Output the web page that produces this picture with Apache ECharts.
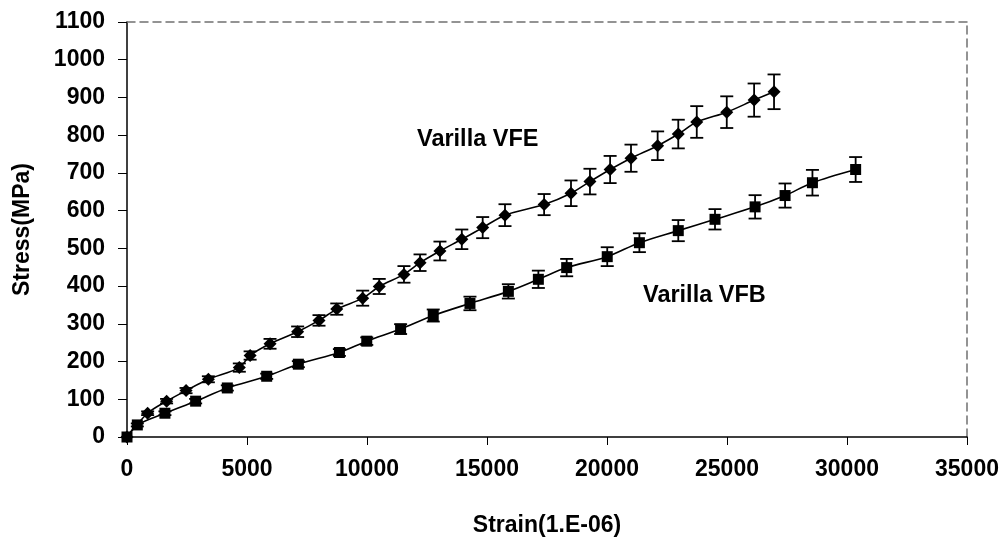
<!DOCTYPE html>
<html>
<head>
<meta charset="utf-8">
<script src="https://cdn.jsdelivr.net/npm/echarts@6/dist/echarts.min.js"></script>
<style>
  html, body { margin: 0; padding: 0; background: #fff; }
  #chart-div { width: 1005px; height: 542px; }
</style>
</head>
<body>
<div id="chart-div"></div>
<script>
// Varilla VFE (rombot)
const vfeStrain = [0, 860, 1650, 2460, 3390, 4680, 5130, 5960, 7110, 8000, 8740, 9820, 10510, 11540, 12210, 13040, 13950, 14820, 15750, 17380, 18500, 19290, 20130, 21000, 22110, 22970, 23740, 24990, 26130, 26960]
const vfeStress = [0, 63, 95, 123, 153, 184, 216, 247, 279, 309, 339, 368, 399, 431, 462, 493, 524, 555, 588, 616, 646, 677, 709, 739, 772, 803, 835, 861, 893, 915]
const vfeErr = [0, 5, 6, 7, 8, 11, 11, 13, 14, 14, 15, 20, 20, 22, 22, 25, 26, 28, 29, 28, 34, 34, 36, 36, 38, 38, 42, 42, 44, 46]

// Varilla VFB (neliöt)
const vfbStrain = [0, 430, 1580, 2860, 4180, 5820, 7140, 8850, 9990, 11400, 12760, 14290, 15890, 17140, 18320, 20010, 21350, 22970, 24500, 26170, 27420, 28560, 30360]
const vfbStress = [0, 32, 63, 95, 130, 161, 193, 224, 254, 286, 322, 354, 386, 418, 449, 478, 515, 547, 577, 610, 640, 674, 709]
const vfbErr = [0, 4, 5, 6, 7, 7, 8, 9, 10, 13, 16, 18, 19, 23, 23, 25, 25, 28, 27, 31, 32, 34, 33]

const font = "'Liberation Sans', Arial, sans-serif"

function pairs(xs, ys) { return xs.map((x, i) => [x, ys[i]]) }
function triples(xs, ys, es) { return xs.map((x, i) => [x, ys[i], es[i]]) }

// virhepalkit
function errorBars(params, api) {
    const e = api.value(2)
    if (!e) return
    const x = api.value(0), y = api.value(1)
    const top = api.coord([x, y + e])
    const bot = api.coord([x, y - e])
    const w = 6.5
    const st = { stroke: '#000', lineWidth: 1.8 }
    return {
        type: 'group',
        children: [
            { type: 'line', shape: { x1: top[0], y1: top[1], x2: bot[0], y2: bot[1] }, style: st },
            { type: 'line', shape: { x1: top[0] - w, y1: top[1], x2: top[0] + w, y2: top[1] }, style: st },
            { type: 'line', shape: { x1: bot[0] - w, y1: bot[1], x2: bot[0] + w, y2: bot[1] }, style: st }
        ]
    }
}

let myChart = echarts.init(document.getElementById('chart-div'))

const labelStyle = { color: '#000', fontWeight: 'bold', fontSize: 23, fontFamily: font }
const plain = v => String(v) // ei tuhaterottimia

const option = {
    animation: false,
    backgroundColor: '#fff',
    grid: { left: 127, top: 22, right: 38, bottom: 102 },
    xAxis: [{
        type: 'value', min: 0, max: 35000, interval: 5000,
        name: 'Strain(1.E-06)', nameLocation: 'middle', nameGap: 77,
        nameTextStyle: labelStyle,
        axisLine: { onZero: false, lineStyle: { color: '#000', width: 1.5 } },
        axisTick: { length: 8, lineStyle: { color: '#000', width: 1 } },
        axisLabel: Object.assign({ margin: 21, formatter: plain }, labelStyle),
        splitLine: { show: false }
    }, {
        type: 'value', position: 'top', min: 0, max: 35000,
        axisLine: { show: true, onZero: false, lineStyle: { color: '#707070', type: [8, 5], width: 1.5 } },
        axisTick: { show: false }, axisLabel: { show: false }, splitLine: { show: false }
    }],
    yAxis: [{
        type: 'value', min: 0, max: 1100, interval: 100,
        name: 'Stress(MPa)', nameLocation: 'middle', nameGap: 93,
        nameTextStyle: labelStyle,
        axisLine: { show: true, onZero: false, lineStyle: { color: '#000', width: 1.5 } },
        axisTick: { show: true, length: 9, lineStyle: { color: '#000', width: 1 } },
        axisLabel: Object.assign({ margin: 22, formatter: plain }, labelStyle),
        splitLine: { show: false }
    }, {
        type: 'value', position: 'right', min: 0, max: 1100,
        axisLine: { show: true, onZero: false, lineStyle: { color: '#707070', type: [8, 5], width: 1.5 } },
        axisTick: { show: false }, axisLabel: { show: false }, splitLine: { show: false }
    }],
    graphic: [
        { type: 'text', left: 417, top: 128, style: { text: 'Varilla VFE', fill: '#000', font: 'bold 23.5px ' + font } },
        { type: 'text', left: 643, top: 284, style: { text: 'Varilla VFB', fill: '#000', font: 'bold 23.5px ' + font } }
    ],
    series: [
        {
            name: 'VFE err', type: 'custom', renderItem: errorBars,
            encode: { x: 0, y: 1 }, data: triples(vfeStrain, vfeStress, vfeErr), z: 3
        },
        {
            name: 'VFB err', type: 'custom', renderItem: errorBars,
            encode: { x: 0, y: 1 }, data: triples(vfbStrain, vfbStress, vfbErr), z: 3
        },
        {
            name: 'Varilla VFE', type: 'line', smooth: 0.3,
            data: pairs(vfeStrain, vfeStress),
            symbol: 'diamond', symbolSize: [13, 13],
            itemStyle: { color: '#000' },
            lineStyle: { color: '#000', width: 1.6 }, z: 4
        },
        {
            name: 'Varilla VFB', type: 'line', smooth: 0.3,
            data: pairs(vfbStrain, vfbStress),
            symbol: 'rect', symbolSize: 11,
            itemStyle: { color: '#000' },
            lineStyle: { color: '#000', width: 1.6 }, z: 4
        }
    ]
}

myChart.setOption(option)
</script>
</body>
</html>
